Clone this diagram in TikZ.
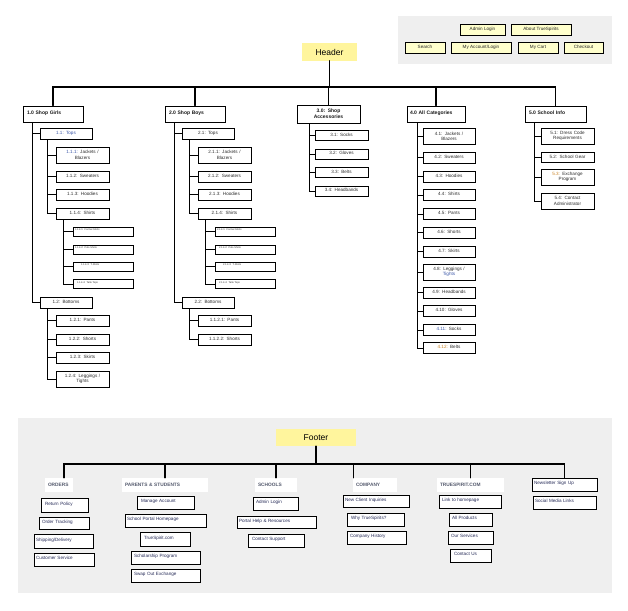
\documentclass[tikz,border=0pt]{standalone}
\usepackage{fontspec}
\setmainfont{Liberation Sans}
\definecolor{panelgray}{HTML}{EFEFEF}
\definecolor{titleyellow}{HTML}{FFF59D}
\definecolor{navyellow}{HTML}{FFFFCC}
\definecolor{treetext}{HTML}{2E2E2E}
\definecolor{linkblue}{HTML}{3A56A8}
\definecolor{noteorange}{HTML}{C9801F}
\definecolor{cattext}{HTML}{555B6E}
\definecolor{itemtext}{HTML}{262B58}

\begin{document}
\begin{tikzpicture}[x=1pt,y=-1pt,line cap=round,
  navbox/.style={draw,fill=navyellow,line width=0.9pt,minimum height=11pt,minimum width=#1,inner sep=0pt,text depth=2pt,font=\fontsize{4.6}{5.5}\selectfont,text=black!85},
  title/.style={fill=titleyellow,minimum width=#1,minimum height=17pt,inner sep=0pt,font=\fontsize{8.5}{10}\selectfont},
  topcat/.style={draw,fill=white,line width=1pt,minimum height=16pt,inner xsep=4pt,inner ysep=0pt,align=left,text width=#1,font=\bfseries\fontsize{5}{6}\selectfont,text=black!90},
  leaf/.style={draw,fill=white,line width=0.9pt,minimum height=11pt,inner xsep=2pt,inner ysep=0.5pt,align=center,text width=#1,font=\fontsize{4.6}{5.4}\selectfont,text=treetext},
  tall/.style={minimum height=16pt},
  lift/.style={text depth=#1},
  tiny/.style={draw,fill=white,line width=0.9pt,minimum height=9pt,inner xsep=2pt,inner ysep=0pt,align=left,text width=56pt,text depth=3.5pt,font=\fontsize{2.5}{3}\selectfont,text=treetext},
  fcat/.style={fill=white,minimum height=14pt,inner xsep=3pt,inner ysep=0pt,align=left,text width=#1,font=\bfseries\fontsize{4.8}{6}\selectfont,text=cattext},
  fitem/.style={draw,fill=white,line width=0.9pt,minimum height=13pt,inner xsep=2pt,inner ysep=0pt,align=left,text width=#1,text depth=3pt,font=\fontsize{4.6}{5.5}\selectfont,text=itemtext},
  link/.style={line width=0.9pt},
  bar/.style={line width=1.2pt}]
\useasboundingbox (0,0) rectangle (628,610);

% panels
\fill[panelgray] (398,16) rectangle (612,64);
\fill[panelgray] (18,418) rectangle (612,593);

% header
\node[navbox=45pt] (nav1) at (482.5,29.5) {Admin Login};
\node[navbox=60pt] (nav2) at (541,29.5) {About TrueSpirits};
\node[navbox=40pt] (nav3) at (425,47.5) {Search};
\node[navbox=60pt] (nav4) at (481,47.5) {My Account/Login};
\node[navbox=40pt] (nav5) at (538,47.5) {My Cart};
\node[navbox=39pt] (nav6) at (583.5,47.5) {Checkout};
\node[title=55pt] (hdr) at (329.5,52) {Header};
\coordinate (hb) at (329.5,87);

% shop girls
\node[topcat=52pt,lift=3pt] (g0) at (53,114) {1.0 Shop Girls};
\node[leaf=48pt,lift=2pt,text=linkblue] (g1) at (66,133.5) {1.1: Tops};
\node[leaf=49pt,tall] (g11) at (82.5,155) {\textcolor{linkblue}{1.1.1:} Jackets /\\Blazers};
\node[leaf=49pt,lift=2pt] (g12) at (82.5,176.5) {1.1.2: Sweaters};
\node[leaf=49pt,lift=2pt] (g13) at (82.5,194.5) {1.1.3: Hoodies};
\node[leaf=49pt,lift=2pt] (g14) at (82.5,213.5) {1.1.4: Shirts};
\node[tiny] (g141) at (103,231.5) {1.1.4.1: Formal Shirts};
\node[tiny] (g142) at (103,249.5) {1.1.4.2: Polo Shirts};
\node[tiny] (g143) at (103,266.5) {\hspace{6pt}1.1.4.3: T-Shirts};
\node[tiny] (g144) at (103,284) {\hspace{2pt}1.1.4.4: Tank Tops};
\node[leaf=48pt,lift=2pt] (g2) at (66,302.5) {1.2: Bottoms};
\node[leaf=49pt,lift=2pt] (g21) at (82.5,320.5) {1.2.1: Pants};
\node[leaf=49pt,lift=2pt] (g22) at (82.5,339.5) {1.2.2: Shorts};
\node[leaf=49pt,lift=2pt] (g23) at (82.5,357.5) {1.2.3: Skirts};
\node[leaf=49pt,tall] (g24) at (82.5,379) {1.2.4: Leggings /\\Tights};

% shop boys
\node[topcat=52pt,lift=3pt] (b0) at (195,114) {2.0 Shop Boys};
\node[leaf=48pt,lift=2pt] (b1) at (208,133.5) {2.1: Tops};
\node[leaf=49pt,tall] (b11) at (224.5,155) {2.1.1: Jackets /\\Blazers};
\node[leaf=49pt,lift=2pt] (b12) at (224.5,176.5) {2.1.2: Sweaters};
\node[leaf=49pt,lift=2pt] (b13) at (224.5,194.5) {2.1.3: Hoodies};
\node[leaf=49pt,lift=2pt] (b14) at (224.5,213.5) {2.1.4: Shirts};
\node[tiny] (b141) at (245,231.5) {2.1.4.1: Formal Shirts};
\node[tiny] (b142) at (245,249.5) {\hspace{2pt}2.1.4.2: Polo Shirts};
\node[tiny] (b143) at (245,266.5) {\hspace{6pt}2.1.4.3: T-Shirts};
\node[tiny] (b144) at (245,284) {\hspace{2pt}2.1.4.4: Tank Tops};
\node[leaf=48pt,lift=2pt] (b2) at (208,302.5) {2.2: Bottoms};
\node[leaf=49pt,lift=2pt] (b21) at (224.5,320.5) {1.1.2.1: Pants};
\node[leaf=49pt,lift=2pt] (b22) at (224.5,339.5) {1.1.2.2: Shorts};

% accessories
\node[topcat=55pt,align=center,minimum height=18pt] (a0) at (328.5,114) {3.0: Shop\\Accessories};
\node[leaf=49pt,minimum height=10pt,lift=2pt] (a1) at (341.5,135.5) {3.1: Socks};
\node[leaf=49pt,minimum height=10pt,lift=2pt] (a2) at (341.5,154) {3.2: Gloves};
\node[leaf=49pt,minimum height=10pt,lift=2pt] (a3) at (341.5,172.5) {3.3: Belts};
\node[leaf=49pt,minimum height=10pt,lift=2pt] (a4) at (341.5,191) {3.4: Headbands};

% all categories
\node[topcat=52pt,inner xsep=3pt,lift=3pt] (c0) at (436,114) {4.0 All Categories};
\node[leaf=48pt,tall] (c1) at (449,136.5) {4.1: Jackets /\\Blazers};
\node[leaf=48pt,lift=2pt] (c2) at (449,157.5) {4.2: Sweaters};
\node[leaf=48pt,lift=2pt] (c3) at (449,176.5) {4.3: Hoodies};
\node[leaf=48pt,lift=2pt] (c4) at (449,195) {4.4: Shirts};
\node[leaf=48pt,lift=2pt] (c5) at (449,214) {4.5: Pants};
\node[leaf=48pt,lift=2pt] (c6) at (449,232.5) {4.6: Shorts};
\node[leaf=48pt,lift=2pt] (c7) at (449,251.5) {4.7: Skirts};
\node[leaf=48pt,tall] (c8) at (449,272) {4.8: Leggings /\\\textcolor{linkblue}{Tights}};
\node[leaf=48pt,lift=2pt] (c9) at (449,292.5) {4.9: Headbands};
\node[leaf=48pt,lift=2pt] (c10) at (449,311) {4.10: Gloves};
\node[leaf=48pt,lift=2pt] (c11) at (449,330) {\textcolor{linkblue}{4.11:} Socks};
\node[leaf=48pt,lift=2pt] (c12) at (449,348) {\textcolor{noteorange}{4.12:} Belts};

% school info
\node[topcat=53pt,lift=3pt] (s0) at (555.5,114) {5.0 School Info};
\node[leaf=49pt,tall] (s1) at (567.5,136) {5.1: Dress Code\\Requirements};
\node[leaf=49pt,minimum height=10pt,lift=2pt] (s2) at (567.5,157.5) {5.2: School Gear};
\node[leaf=49pt,tall] (s3) at (567.5,177) {\textcolor{noteorange}{5.3:} Exchange\\Program};
\node[leaf=49pt,tall] (s4) at (567.5,201) {5.4: Contact\\Administrator};

\draw[bar] (hdr.south) -- (hb);
\draw[bar] (hb) -| (g0.north);
\draw[bar] (hb) -| (b0.north);
\draw[bar] (hb) -| (a0.north);
\draw[bar] (hb) -| (c0.north);
\draw[bar] (hb) -| (s0.north);

\draw[link] ([xshift=10pt]g0.south west) |- (g1.west);
\draw[link] ([xshift=10pt]g0.south west) |- (g2.west);
\draw[link] ([xshift=8pt]g1.south west) |- (g11.west);
\draw[link] ([xshift=8pt]g1.south west) |- (g12.west);
\draw[link] ([xshift=8pt]g1.south west) |- (g13.west);
\draw[link] ([xshift=8pt]g1.south west) |- (g14.west);
\draw[link] ([xshift=8pt]g14.south west) |- (g141.west);
\draw[link] ([xshift=8pt]g14.south west) |- (g142.west);
\draw[link] ([xshift=8pt]g14.south west) |- (g143.west);
\draw[link] ([xshift=8pt]g14.south west) |- (g144.west);
\draw[link] ([xshift=8pt]g2.south west) |- (g21.west);
\draw[link] ([xshift=8pt]g2.south west) |- (g22.west);
\draw[link] ([xshift=8pt]g2.south west) |- (g23.west);
\draw[link] ([xshift=8pt]g2.south west) |- (g24.west);

\draw[link] ([xshift=10pt]b0.south west) |- (b1.west);
\draw[link] ([xshift=10pt]b0.south west) |- (b2.west);
\draw[link] ([xshift=8pt]b1.south west) |- (b11.west);
\draw[link] ([xshift=8pt]b1.south west) |- (b12.west);
\draw[link] ([xshift=8pt]b1.south west) |- (b13.west);
\draw[link] ([xshift=8pt]b1.south west) |- (b14.west);
\draw[link] ([xshift=8pt]b14.south west) |- (b141.west);
\draw[link] ([xshift=8pt]b14.south west) |- (b142.west);
\draw[link] ([xshift=8pt]b14.south west) |- (b143.west);
\draw[link] ([xshift=8pt]b14.south west) |- (b144.west);
\draw[link] ([xshift=8pt]b2.south west) |- (b21.west);
\draw[link] ([xshift=8pt]b2.south west) |- (b22.west);

\draw[link] ([xshift=13pt]a0.south west) |- (a1.west);
\draw[link] ([xshift=13pt]a0.south west) |- (a2.west);
\draw[link] ([xshift=13pt]a0.south west) |- (a3.west);
\draw[link] ([xshift=13pt]a0.south west) |- (a4.west);

\draw[link] ([xshift=11pt]c0.south west) |- (c1.west);
\draw[link] ([xshift=11pt]c0.south west) |- (c2.west);
\draw[link] ([xshift=11pt]c0.south west) |- (c3.west);
\draw[link] ([xshift=11pt]c0.south west) |- (c4.west);
\draw[link] ([xshift=11pt]c0.south west) |- (c5.west);
\draw[link] ([xshift=11pt]c0.south west) |- (c6.west);
\draw[link] ([xshift=11pt]c0.south west) |- (c7.west);
\draw[link] ([xshift=11pt]c0.south west) |- (c8.west);
\draw[link] ([xshift=11pt]c0.south west) |- (c9.west);
\draw[link] ([xshift=11pt]c0.south west) |- (c10.west);
\draw[link] ([xshift=11pt]c0.south west) |- (c11.west);
\draw[link] ([xshift=11pt]c0.south west) |- (c12.west);

\draw[link] ([xshift=10pt]s0.south west) |- (s1.west);
\draw[link] ([xshift=10pt]s0.south west) |- (s2.west);
\draw[link] ([xshift=10pt]s0.south west) |- (s3.west);
\draw[link] ([xshift=10pt]s0.south west) |- (s4.west);

% footer
\node[title=80pt] (ftr) at (316,437.5) {Footer};
\coordinate (fb) at (316,464);
\node[fcat=22pt] (fo) at (59,485) {ORDERS};
\node[fcat=80pt] (fp) at (165,485) {PARENTS \& STUDENTS};
\node[fcat=36pt] (fs) at (276,485) {SCHOOLS};
\node[fcat=38pt] (fc) at (375,485) {COMPANY};
\node[fcat=61pt] (ft) at (470.5,485) {TRUESPIRIT.COM};
\node[fitem=61pt,minimum height=13pt] (fn) at (564.5,484.5) {Newsletter Sign Up};
\node[fitem=59pt] (fm) at (564.5,502.5) {Social Media Links};

\node[fitem=43pt,minimum height=14pt] (o1) at (64.5,505) {\hspace{2pt}Return Policy};
\node[fitem=46pt,minimum height=12pt] (o2) at (64,523) {\hspace{1pt}Order Tracking};
\node[fitem=55pt,minimum height=14pt] (o3) at (63.5,541) {Shipping/Delivery};
\node[fitem=56pt] (o4) at (64,559.5) {Customer Service};

\node[fitem=53pt] (p1) at (165.5,502.5) {\hspace{2pt}Manage Account};
\node[fitem=77pt] (p2) at (165.5,520.5) {School Portal Homepage};
\node[fitem=46pt,minimum height=14pt] (p3) at (165,539) {\hspace{2pt}TrueSpirit.com};
\node[fitem=65pt] (p4) at (165.5,557.5) {\hspace{1pt}Scholarship Program};
\node[fitem=65pt] (p5) at (165.5,575.5) {\hspace{1pt}Swap Out Exchange};

\node[fitem=41pt] (h1) at (275.5,503.5) {\hspace{1pt}Admin Login};
\node[fitem=75pt,minimum height=12pt] (h2) at (276.5,522) {Portal Help \& Resources};
\node[fitem=52pt] (h3) at (276,540.5) {\hspace{2pt}Contact Support};

\node[fitem=62pt,minimum height=12pt] (k1) at (376,501) {New Client Inquiries};
\node[fitem=53pt] (k2) at (375.5,519.5) {\hspace{2pt}Why TrueSpirits?};
\node[fitem=55pt] (k3) at (376.5,537.5) {\hspace{1pt}Company History};

\node[fitem=58pt] (t1) at (470,501.5) {\hspace{1pt}Link to homepage};
\node[fitem=39pt] (t2) at (470.5,519.5) {\hspace{1pt}All Products};
\node[fitem=41pt] (t3) at (470.5,537.5) {\hspace{1pt}Our Services};
\node[fitem=37pt] (t4) at (470.5,555.5) {\hspace{2pt}Contact Us};

\draw[line width=1.5pt] (ftr.south) -- (fb);
\draw[bar] (fb) -| ([xshift=5pt]fo.north);
\draw[bar] (fb) -| (fp.north);
\draw[bar] (fb) -| (fs.north);
\draw[bar] (fb) -| ([xshift=1pt]fc.north west);
\draw[bar] (fb) -| (ft.north);
\draw[bar] (fb) -| (fn.north);
\end{tikzpicture}
\end{document}
